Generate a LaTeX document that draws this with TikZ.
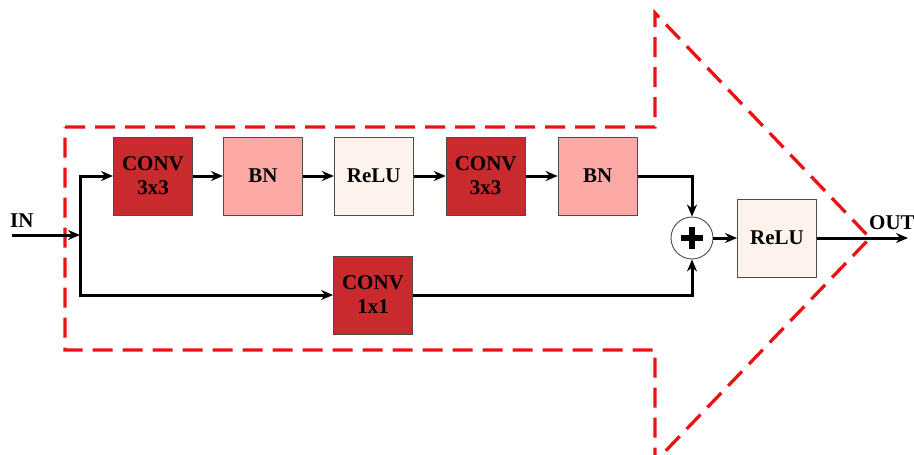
\documentclass[tikz,border=0pt]{standalone}
\usepackage{fontspec}
\setmainfont{Liberation Serif}
\usepackage{tikz}
\usetikzlibrary{arrows.meta, positioning}

\definecolor{convred}{RGB}{200,42,46}
\definecolor{bnpink}{RGB}{253,170,166}
\definecolor{relucream}{RGB}{253,242,236}
\definecolor{blockred}{RGB}{234,18,18}

\tikzset{
  block/.style={draw=black!70, line width=0.9pt, minimum width=79pt, minimum height=78pt,
    inner sep=0pt, align=center, font=\fontsize{21}{24}\selectfont\bfseries},
  conv/.style={block, fill=convred},
  bn/.style={block, fill=bnpink},
  relu/.style={block, fill=relucream},
  flow/.style={line width=3pt, -{Stealth[length=12pt, width=10pt]}},
  label/.style={font=\fontsize{21}{24}\selectfont\bfseries, inner sep=0pt},
}

\begin{document}
\begin{tikzpicture}[x=1pt, y=-1pt]
    \useasboundingbox (0,0) rectangle (914,455);

    % Outline of the block
    \draw[blockred, line width=3.3pt, dash pattern=on 20pt off 10pt]
        (65,127) -- (655,127) -- (655,13) -- (870,238) -- (655,462) -- (655,350) -- (65,350) -- cycle;

    % Nodes
    \node[conv] (conv1) at (153,176) {CONV\\3x3};
    \node[bn, right=30pt of conv1] (bn1) {BN};
    \node[relu, right=31pt of bn1] (relu1) {ReLU};
    \node[conv, right=32pt of relu1] (conv2) {CONV\\3x3};
    \node[bn, right=32pt of conv2] (bn2) {BN};
    \node[conv] (conv3) at (373,295) {CONV\\1x1};
    \node[draw=black!70, line width=0.9pt, circle, minimum size=42pt, inner sep=0pt,
        path picture={\draw[black, line width=5.5pt] (path picture bounding box.center) +(-11pt,0) -- +(11pt,0)
            (path picture bounding box.center) +(0,-11pt) -- +(0,11pt);}] (add) at (692,238) {};
    \node[relu] (relu2) at (777,238) {ReLU};

    \coordinate (in) at (12,235);
    \coordinate (split) at (80,235);
    \coordinate (out) at (908,238);
    \node[label, anchor=south west] at (10,228) {IN};
    \node[label, anchor=south west] at (869,230) {OUT};

    % Arrows
    \draw[flow] (in) -- (split);
    \draw[flow] (split) |- (conv1);
    \draw[flow] (split) |- (conv3);
    \draw[flow] (conv1) -- (bn1);
    \draw[flow] (bn1) -- (relu1);
    \draw[flow] (relu1) -- (conv2);
    \draw[flow] (conv2) -- (bn2);
    \draw[flow] (bn2) -| (add);
    \draw[flow] (conv3) -| (add);
    \draw[flow] (add) -- (relu2);
    \draw[flow] (relu2) -- (out);

\end{tikzpicture}
\end{document}
